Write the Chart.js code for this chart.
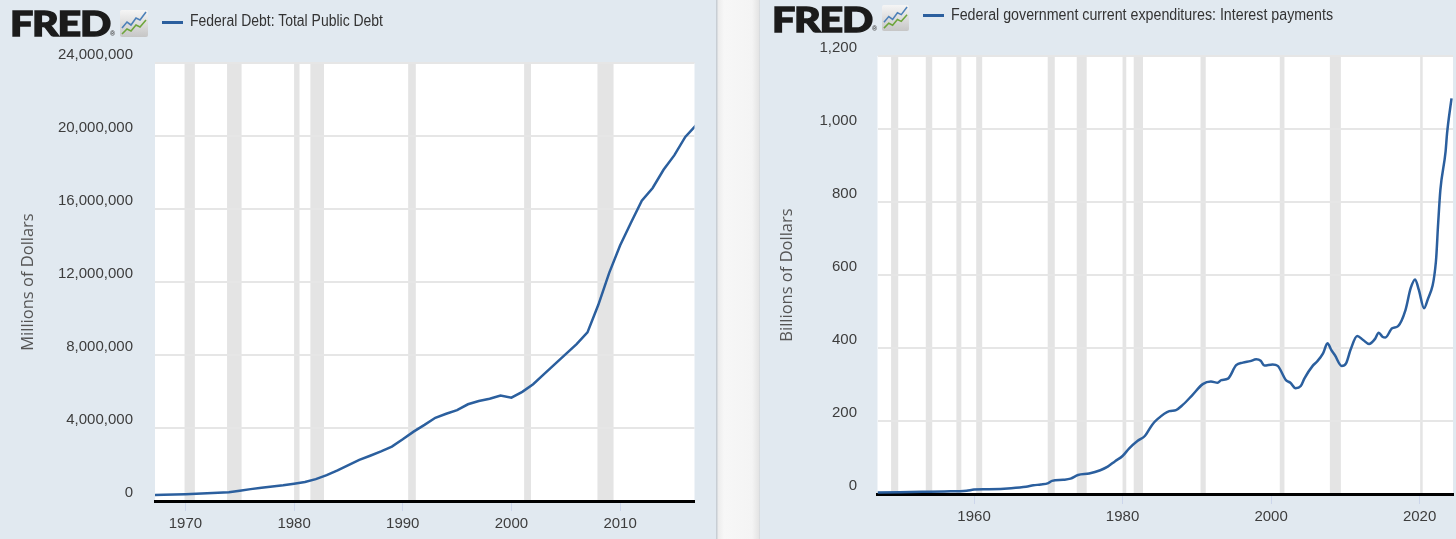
<!DOCTYPE html>
<html>
<head>
<meta charset="utf-8">
<script src="https://cdn.jsdelivr.net/npm/chart.js@4.4.1/dist/chart.umd.min.js"></script>
<style>
  body { margin: 0; width: 1456px; height: 539px; overflow: hidden; position: relative; background: #f3f3f3; }
  .panel { position: absolute; top: 0; height: 539px; background: #e1e9f0; overflow: hidden; }
  .panel canvas { position: absolute; left: 0; top: 0; }
  .logo { position: absolute; font-family: Lato, "Noto Sans", sans-serif; font-weight: 900; font-size: 34px; color: #1b1b1b; line-height: 1; white-space: nowrap; transform-origin: 0 0; letter-spacing: -1px; -webkit-text-stroke: 1.3px #1b1b1b; }
  .reg { position: absolute; font: 700 7px "Liberation Sans", sans-serif; color: #444; line-height: 1; }
  .icon { position: absolute; }
  .legend-line { position: absolute; height: 3px; background: #2b5f9e; }
  .legend-text { position: absolute; font: 16px "Liberation Sans", sans-serif; color: #333; white-space: nowrap; line-height: 1; transform-origin: 0 0; }
  .divider { position: absolute; left: 716px; top: 0; width: 44px; height: 539px;
    background: linear-gradient(to right, #c8ced4 0, #c8ced4 1px, #ececec 2px, #f7f7f7 8px, #f4f4f4 36px, #e4e4e4 43px, #cdd3d9 44px); }
</style>
</head>
<body>

<div class="panel" style="left:0; width:716px;">
  <canvas id="debtChart" width="716" height="539"></canvas>
  <div class="logo" id="logo1" style="left:10px; top:6px;">FRED</div>
  <div class="reg" style="left:110px; top:30px;">®</div>
  <svg class="icon" style="left:120px; top:10px;" width="28" height="27" viewBox="0 0 28 27">
    <defs><linearGradient id="ig1" x1="0" y1="0" x2="0" y2="1"><stop offset="0" stop-color="#f5f5f5"/><stop offset="1" stop-color="#c6c6c6"/></linearGradient></defs>
    <rect x="0" y="0" width="28" height="27" rx="2" fill="url(#ig1)"/>
    <polyline points="2,18 7,12 11,15 16,8 20,10 26,2" fill="none" stroke="#4d80b8" stroke-width="1.6"/>
    <polyline points="2,24 7,19 11,21 16,15 20,17 26,10" fill="none" stroke="#6ea53c" stroke-width="1.6"/>
  </svg>
  <div class="legend-line" style="left:162px; top:21px; width:21px;"></div>
  <div class="legend-text" id="leg1" style="left:190px; top:13px;">Federal Debt: Total Public Debt</div>
</div>

<div class="divider"></div>

<div class="panel" style="left:760px; width:696px;">
  <canvas id="interestChart" width="696" height="539"></canvas>
  <div class="logo" id="logo2" style="left:12px; top:2px;">FRED</div>
  <div class="reg" style="left:112px; top:25px;">®</div>
  <svg class="icon" style="left:121px; top:5px;" width="29" height="26" viewBox="0 0 28 27">
    <defs><linearGradient id="ig2" x1="0" y1="0" x2="0" y2="1"><stop offset="0" stop-color="#f5f5f5"/><stop offset="1" stop-color="#c6c6c6"/></linearGradient></defs>
    <rect x="0" y="0" width="28" height="27" rx="2" fill="url(#ig2)"/>
    <polyline points="2,18 7,12 11,15 16,8 20,10 26,2" fill="none" stroke="#4d80b8" stroke-width="1.6"/>
    <polyline points="2,24 7,19 11,21 16,15 20,17 26,10" fill="none" stroke="#6ea53c" stroke-width="1.6"/>
  </svg>
  <div class="legend-line" style="left:163px; top:14px; width:21px;"></div>
  <div class="legend-text" id="leg2" style="left:191px; top:7px;">Federal government current expenditures: Interest payments</div>
</div>

<script>
// left chart: total public debt, millions of dollars
const debtYears = [1967, 1968, 1969, 1970, 1971, 1972, 1973, 1974, 1975, 1976,
  1977, 1978, 1979, 1980, 1981, 1982, 1983, 1984, 1985, 1986,
  1987, 1988, 1989, 1990, 1991, 1992, 1993, 1994, 1995, 1996,
  1997, 1998, 1999, 2000, 2001, 2002, 2003, 2004, 2005, 2006,
  2007, 2008, 2009, 2010, 2011, 2012, 2013, 2014, 2015, 2016, 2017];
const debtValues = [330000, 345000, 355000, 375000, 400000, 425000, 455000, 480000, 560000, 650000,
  730000, 800000, 860000, 950000, 1040000, 1200000, 1420000, 1680000, 1970000, 2250000,
  2480000, 2720000, 2980000, 3380000, 3800000, 4170000, 4560000, 4780000, 4980000, 5300000,
  5480000, 5600000, 5780000, 5660000, 5980000, 6400000, 6950000, 7500000, 8050000, 8600000,
  9240000, 10750000, 12500000, 14000000, 15250000, 16450000, 17150000, 18150000, 18950000, 19950000, 20600000];
const debtYearTicks = [1970, 1980, 1990, 2000, 2010];
const debtValueTicks = [0, 4000000, 8000000, 12000000, 16000000, 20000000, 24000000];

// right chart: federal interest payments, billions of dollars
const interestDates = [1947, 1950, 1953, 1956, 1959, 1960, 1962, 1965, 1967, 1968,
  1969, 1970, 1970.5, 1972, 1973, 1974, 1975.5, 1977, 1978, 1979,
  1980, 1980.9, 1982, 1983, 1984, 1984.7, 1986.3, 1987.2, 1988.1, 1989.4,
  1990.8, 1991.9, 1992.8, 1993.3, 1994.2, 1995.3, 1996.2, 1997.2, 1998, 1998.6,
  1999.1, 2000.2, 2000.9, 2002, 2002.6, 2003.3, 2004, 2004.5, 2005.6, 2006.2,
  2007, 2007.6, 2008.1, 2008.6, 2009.5, 2010.1, 2010.7, 2011.6, 2012.4, 2013.2,
  2014, 2014.5, 2015, 2015.4, 2016.3, 2017.1, 2018.1, 2018.8, 2019.4, 2019.9,
  2020.6, 2021, 2022.2, 2022.5, 2022.8, 2023.5, 2023.7, 2024.3];
const interestValues = [4, 5, 6, 7, 9, 12, 13, 16, 20, 24,
  26, 30, 36, 39, 42, 52, 56, 65, 75, 90,
  104, 125, 145, 159, 190, 205, 227, 230, 244, 271,
  301, 308, 305, 312, 316, 353, 360, 364, 369, 365,
  352, 355, 351, 312, 305, 290, 296, 317, 351, 363,
  385, 413, 395, 380, 351, 358, 395, 433, 422, 411,
  425, 442, 431, 429, 454, 460, 504, 564, 588, 559,
  509, 527, 637, 741, 833, 938, 988, 1084];
const interestYearTicks = [1960, 1980, 2000, 2020];
const interestValueTicks = [0, 200, 400, 600, 800, 1000, 1200];

// NBER recessions (decimal years)
const recessionStarts = [1948.83, 1953.5, 1957.62, 1960.29, 1969.92, 1973.83, 1980.0, 1981.5, 1990.5, 2001.17, 2007.92, 2020.08];
const recessionEnds   = [1949.79, 1954.37, 1958.29, 1961.1, 1970.87, 1975.17, 1980.5, 1982.75, 1991.2, 2001.8, 2009.4, 2020.42];

const lineColor = '#2b5f9e';
const tickFont = { family: 'Liberation Sans', size: 15 };

// white plot area plus grey recession bands, drawn under grid and line
const recessionPlugin = {
  id: 'recessions',
  beforeDraw(chart) {
    const { ctx, chartArea: a, scales: { x } } = chart;
    ctx.save();
    ctx.fillStyle = '#ffffff';
    ctx.fillRect(a.left, a.top, a.width, a.height);
    ctx.fillStyle = '#e4e4e4';
    recessionStarts.forEach((s, i) => {
      const x0 = Math.max(x.getPixelForValue(s), a.left);
      const x1 = Math.min(x.getPixelForValue(recessionEnds[i]), a.right);
      if (x1 > x0) ctx.fillRect(x0, a.top, x1 - x0, a.height);
    });
    ctx.restore();
  }
};

function makeChart(id, o) {
  return new Chart(document.getElementById(id), {
    type: 'line',
    data: {
      datasets: [{
        data: o.xs.map((x, i) => ({ x: x, y: o.ys[i] })),
        borderColor: lineColor,
        borderWidth: 2.5,
        pointRadius: 0,
        tension: o.tension,
        cubicInterpolationMode: o.cubic,
        fill: false
      }]
    },
    options: {
      responsive: false,
      animation: false,
      layout: { padding: { top: o.top, right: o.right, left: 0, bottom: 0 } },
      plugins: { legend: { display: false }, tooltip: { enabled: false } },
      scales: {
        x: {
          type: 'linear',
          min: o.xMin,
          max: o.xMax,
          afterBuildTicks: s => { s.ticks = o.xTicks.map(v => ({ value: v })); },
          afterFit: s => { s.height = o.xHeight; },
          ticks: { font: tickFont, color: '#3d3d3d', padding: 4, maxRotation: 0, callback: v => String(v) },
          grid: { drawOnChartArea: false, drawTicks: true, tickLength: 10, color: '#ccd6eb', lineWidth: 1 },
          border: { display: true, color: '#000000', width: 3 }
        },
        y: {
          min: 0,
          max: o.yTicks[o.yTicks.length - 1],
          afterBuildTicks: s => { s.ticks = o.yTicks.map(v => ({ value: v })); },
          afterFit: s => { s.width = o.yWidth; },
          ticks: { font: tickFont, color: '#3d3d3d', padding: o.tickPad, labelOffset: -8,
                   callback: v => v.toLocaleString('en-US') },
          grid: { drawTicks: false, color: '#e6e6e6', lineWidth: 2 },
          border: { display: false },
          title: { display: true, text: o.title, color: '#555555',
                   font: { family: 'Open Sans', size: 16.5 }, padding: { top: o.titlePad, bottom: 0 } }
        }
      }
    },
    plugins: [recessionPlugin]
  });
}

makeChart('debtChart', {
  xs: debtYears, ys: debtValues, xTicks: debtYearTicks, yTicks: debtValueTicks,
  xMin: 1967.2, xMax: 2016.85, top: 63, right: 21.5, yWidth: 155, xHeight: 38,
  tickPad: 22, titlePad: 18, title: 'Millions of Dollars', tension: 0, cubic: 'default'
});

makeChart('interestChart', {
  xs: interestDates, ys: interestValues, xTicks: interestYearTicks, yTicks: interestValueTicks,
  xMin: 1947, xMax: 2024.5, top: 56, right: 3, yWidth: 117.5, xHeight: 45,
  tickPad: 20.5, titlePad: 17.5, title: 'Billions of Dollars', tension: 0.4, cubic: 'monotone'
});

// squeeze header texts to the widths seen in the picture
function fitWidth(id, w) {
  const el = document.getElementById(id);
  const natural = el.getBoundingClientRect().width;
  el.style.transform = 'scaleX(' + (w / natural) + ')';
}
fitWidth('logo1', 100);
fitWidth('logo2', 100);
fitWidth('leg1', 193);
fitWidth('leg2', 382);
</script>
</body>
</html>
